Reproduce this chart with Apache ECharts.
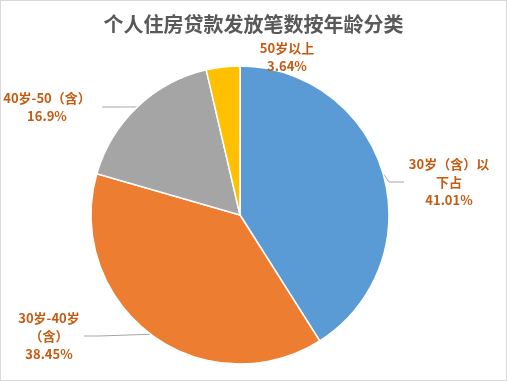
<!DOCTYPE html>
<html><head><meta charset="utf-8">
<script src="https://cdn.jsdelivr.net/npm/echarts@6/dist/echarts.min.js"></script>
<style>html,body{margin:0;padding:0;background:#fff}#c{width:505px;height:379px;border:1px solid #D9D9D9}</style>
</head><body><div id="c"></div>
<script>
var titleText = '个人住房贷款发放笔数按年龄分类';
var categories = ['30岁（含）以下占', '30岁-40岁（含）', '40岁-50（含）', '50岁以上'];
var values = [41.01, 38.45, 16.9, 3.64];
var colors = ['#5B9BD5', '#ED7D31', '#A5A5A5', '#FFC000'];
var labelWidths = [90, 70, 110, 100];
var labelSpots = [[448, 181], [48, 335], [46, 106], [286, 56]];

var chart = echarts.init(document.getElementById('c'));
chart.setOption({
  animation: false,
  title: {text: titleText, left: 'center', top: 8,
    textStyle: {fontFamily: 'Noto Sans CJK SC', fontSize: 20, fontWeight: 'bold', color: '#595959'}},
  series: [{
    type: 'pie',
    center: [239, 214],
    radius: 149,
    startAngle: 90,
    clockwise: true,
    itemStyle: {borderColor: '#fff', borderWidth: 1.5},
    label: {
      formatter: function (p) { return p.name + '\n' + p.value + '%'; },
      fontFamily: 'Noto Sans CJK SC', fontSize: 13, fontWeight: 'bold', color: '#C55A11',
      lineHeight: 18, overflow: 'break', align: 'center'
    },
    labelLine: {lineStyle: {color: '#A6A6A6', width: 1}, length: 15, length2: 15},
    labelLayout: function (params) {
      var s = labelSpots[params.dataIndex];
      return {x: s[0], y: s[1], align: 'center', verticalAlign: 'middle'};
    },
    data: categories.map(function (c, i) {
      return {name: c, value: values[i], itemStyle: {color: colors[i]},
        label: {width: labelWidths[i]}, labelLine: {show: i !== 3}};
    })
  }]
});
</script></body></html>
